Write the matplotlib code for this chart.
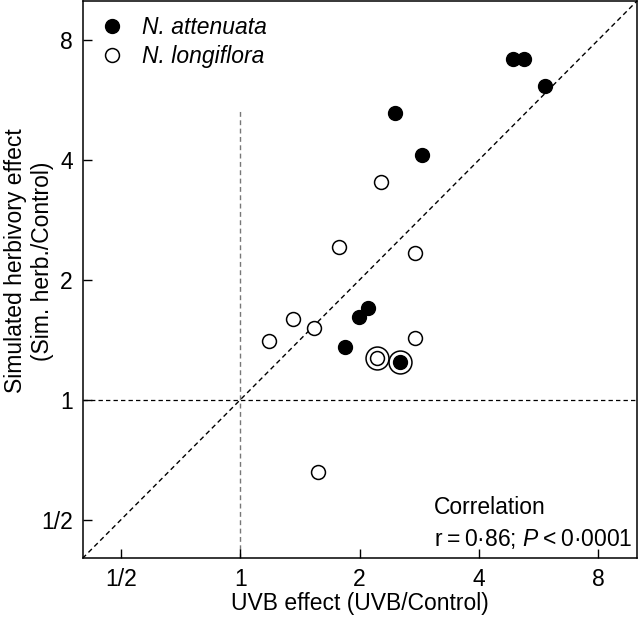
import matplotlib
matplotlib.use("Agg")
import matplotlib.pyplot as plt
from matplotlib.ticker import FixedLocator, NullLocator

plt.rcParams['font.family'] = ['Liberation Sans', 'DejaVu Sans']
plt.rcParams['mathtext.fontset'] = 'custom'
plt.rcParams['mathtext.rm'] = 'Liberation Sans'
plt.rcParams['mathtext.it'] = 'Liberation Sans:italic'

# N. attenuata (filled)
att_x = [4.88, 5.20, 5.87, 2.45, 2.87, 2.10, 1.99, 1.84, 2.53]
att_y = [7.18, 7.18, 6.14, 5.23, 4.10, 1.70, 1.61, 1.36, 1.24]
# N. longiflora (open)
lon_x = [2.26, 1.77, 2.75, 1.36, 1.53, 1.18, 2.75, 2.21, 1.57]
lon_y = [3.51, 2.41, 2.33, 1.59, 1.51, 1.40, 1.43, 1.27, 0.659]
# ringed points
ring_x = [2.53, 2.21]
ring_y = [1.24, 1.27]

ticks = [0.5, 1, 2, 4, 8]
tick_labels = ['1/2', '1', '2', '4', '8']
lim = (0.4, 10.0)
vline_top = 5.32

FS = 16.5

fig = plt.figure(figsize=(6.4, 6.17), dpi=100)
ax = fig.add_axes([0.129, 0.0951, 0.866, 0.903])
ax.set_xscale('log', base=2)
ax.set_yscale('log', base=2)
ax.set_xlim(*lim)
ax.set_ylim(*lim)

ax.plot(lim, lim, ls=(0, (3.5, 2.5)), color='black', lw=1.0, zorder=1)
ax.plot([lim[0], lim[1]], [1, 1], ls=(0, (3.5, 2.5)), color='black', lw=0.9, zorder=1)
ax.plot([1, 1], [lim[0], vline_top], ls=(0, (3.5, 2.5)), color='#777777', lw=1.0, zorder=1)

ax.plot(ring_x, ring_y, 'o', ms=16.5, mfc='white', mec='black', mew=1.1, ls='none', zorder=2)
ax.plot(att_x, att_y, 'o', ms=10, mfc='black', mec='black', mew=1.0, ls='none', zorder=3,
        label='N. attenuata')
ax.plot(lon_x, lon_y, 'o', ms=10, mfc='white', mec='black', mew=1.1, ls='none', zorder=3,
        label='N. longiflora')

ax.xaxis.set_major_locator(FixedLocator(ticks))
ax.yaxis.set_major_locator(FixedLocator(ticks))
ax.xaxis.set_minor_locator(NullLocator())
ax.yaxis.set_minor_locator(NullLocator())
ax.set_xticklabels(tick_labels)
ax.set_yticklabels(tick_labels)
ax.tick_params(direction='in', length=6.5, width=1.0, labelsize=FS, pad=7)
for s in ax.spines.values():
    s.set_linewidth(1.1)

ax.set_xlabel('UVB effect (UVB/Control)', fontsize=FS, labelpad=1)
fig.text(29 / 640, 1 - 261 / 617, 'Simulated herbivory effect\n(Sim. herb./Control)',
         rotation=90, ha='center', va='center', fontsize=FS, linespacing=1.22,
         multialignment='center')

leg = ax.legend(loc='upper left', frameon=False, handletextpad=0.66,
                borderaxespad=0.25, labelspacing=0.25, handlelength=1.3,
                prop={'style': 'italic', 'size': FS})

ax.text(0.634, 0.080, 'Correlation', transform=ax.transAxes, fontsize=FS, ha='left', va='baseline')
ax.text(0.634, 0.023, 'r\u2009=\u20090\u00b786; $\\it{P}$\u2009<\u20090\u00b70001', transform=ax.transAxes,
        fontsize=FS, ha='left', va='baseline')

fig.savefig('out.png', dpi=100)
